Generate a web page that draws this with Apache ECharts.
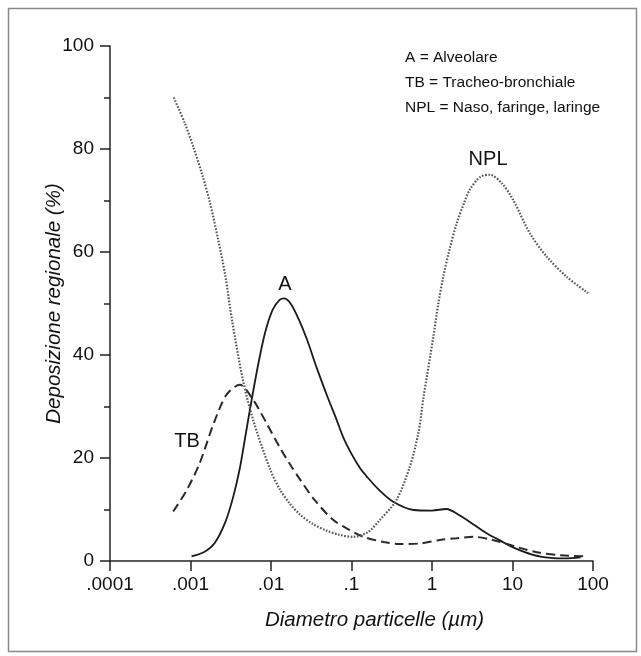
<!DOCTYPE html>
<html lang="it">
<head>
    <meta charset="UTF-8">
    <title>Deposizione regionale</title>
    <script src="https://cdn.jsdelivr.net/npm/echarts@6/dist/echarts.min.js"></script>
    <style>
        html, body { margin: 0; padding: 0; background: #fff; }
        #chart { width: 641px; height: 656px; }
    </style>
</head>
<body>
<div id="chart"></div>
<script>
    // diametro (um) / deposizione (%)
    var aX = [0.00103, 0.0015, 0.002, 0.0027, 0.0034, 0.0041, 0.0049, 0.00575, 0.007, 0.0085, 0.0105, 0.0128, 0.0145, 0.0175, 0.022, 0.028, 0.037, 0.05, 0.065, 0.079, 0.1, 0.128, 0.155, 0.22, 0.33, 0.59, 1.0, 1.5, 2.2, 3.5, 5, 7, 10, 18, 30, 45, 70];
    var aY = [0.9, 1.8, 3.5, 7.5, 12.5, 18, 25, 31.3, 38.5, 44.5, 48.8, 50.7, 51, 50, 47, 43, 37.5, 32, 27.5, 24, 20.8, 18, 16.4, 13.8, 11.5, 9.9, 9.8, 10.1, 8.9, 6.8, 5.2, 4.0, 2.7, 1.2, 0.6, 0.5, 0.7];

    var tbX = [0.00061, 0.0009, 0.0013, 0.00192, 0.0028, 0.0041, 0.006, 0.00885, 0.0129, 0.018, 0.023, 0.035, 0.059, 0.09, 0.14, 0.25, 0.4, 0.7, 1.26, 2, 3.26, 5, 7, 12, 20, 40, 85];
    var tbY = [9.6, 13.8, 19, 26.5, 32.3, 34.2, 31.3, 26.7, 22, 18.3, 15.8, 11.8, 8.0, 6.2, 4.7, 3.7, 3.3, 3.4, 4.1, 4.4, 4.7, 4.3, 3.7, 2.6, 1.7, 1.1, 0.9];

    var nplX = [0.00062, 0.00085, 0.00108, 0.0014, 0.00175, 0.0022, 0.0027, 0.0033, 0.0045, 0.006, 0.0098, 0.013, 0.017, 0.023, 0.033, 0.049, 0.07, 0.105, 0.16, 0.226, 0.36, 0.53, 0.68, 0.78, 1.04, 1.2, 1.38, 1.65, 2.03, 2.5, 2.97, 4, 5.25, 7.5, 10.2, 16.5, 26.6, 47, 87];
    var nplY = [90, 85, 80.5, 75, 69.5, 62.5, 55.5, 46.5, 35, 27.4, 17.7, 13.8, 11.2, 9.0, 7.2, 5.9, 5.1, 4.7, 5.6, 8.0, 11.8, 18.3, 25, 31.5, 43.6, 50, 55.2, 60.5, 65.6, 69.5, 72.2, 74.6, 75, 73.2, 70.1, 63.6, 59.1, 55.2, 52];

    var xTickLabels = {0.0001: '.0001', 0.001: '.001', 0.01: '.01', 0.1: '.1', 1: '1', 10: '10', 100: '100'};
    var legendLines = ['A = Alveolare', 'TB = Tracheo-bronchiale', 'NPL = Naso, faringe, laringe'];

    function pairs(xs, ys) {
        return xs.map(function (x, i) { return [x, ys[i]]; });
    }

    var font = '"Liberation Sans", Arial, Helvetica, sans-serif';

    // etichetta di curva centrata sul punto indicato
    function curveLabel(text, coord) {
        return {
            symbol: 'circle', symbolSize: 0, silent: true,
            label: { show: true, formatter: text, color: '#111', fontSize: 20, fontFamily: font, position: 'inside' },
            data: [{ coord: coord }]
        };
    }

    var chart = echarts.init(document.getElementById('chart'));

    var option = {
        backgroundColor: '#fff',
        animation: false,
        grid: { left: 110, right: 48, top: 46, bottom: 95 },
        xAxis: {
            type: 'log',
            logBase: 10,
            min: 0.0001,
            max: 100,
            name: 'Diametro particelle (\u00b5m)',
            nameLocation: 'middle',
            nameGap: 49,
            nameMoveOverlap: false,
            nameTextStyle: { fontSize: 20.5, fontStyle: 'italic', color: '#111', fontFamily: font, padding: [0, 0, 0, 46] },
            axisLine: { lineStyle: { color: '#222', width: 1.5 } },
            axisTick: { length: 10, lineStyle: { color: '#222', width: 1.5 } },
            axisLabel: {
                fontSize: 19, color: '#111', fontFamily: font, margin: 14,
                formatter: function (v) {
                    var key = Object.keys(xTickLabels).find(function (k) { return Math.abs(Math.log10(+k) - Math.log10(v)) < 1e-6; });
                    return key ? xTickLabels[key] : '';
                }
            },
            splitLine: { show: false },
            minorTick: { show: false }
        },
        yAxis: {
            type: 'value',
            min: 0,
            max: 100,
            interval: 20,
            name: 'Deposizione regionale (%)',
            nameLocation: 'middle',
            nameGap: 46,
            nameMoveOverlap: false,
            nameTextStyle: { fontSize: 20.5, fontStyle: 'italic', color: '#111', fontFamily: font },
            axisLine: { show: true, lineStyle: { color: '#222', width: 1.5 } },
            axisTick: { show: true, length: 10, lineStyle: { color: '#222', width: 1.5 } },
            minorTick: { show: true, splitNumber: 2, length: 6, lineStyle: { color: '#222', width: 1.5 } },
            axisLabel: { fontSize: 19, color: '#111', fontFamily: font, margin: 16 },
            splitLine: { show: false }
        },
        graphic: [
            {
                type: 'rect', left: 6, top: 6, silent: true,
                shape: { width: 628, height: 643 },
                style: { fill: 'none', stroke: '#8a8a8a', lineWidth: 1.5 }
            }
        ].concat(legendLines.map(function (t, i) {
            return {
                type: 'text', x: 405, y: 58 + i * 25, silent: true,
                style: { text: t, fontSize: 15.5, fontFamily: font, fill: '#111', verticalAlign: 'middle' }
            };
        })),
        series: [
            {
                name: 'A', type: 'line', smooth: 0.3, showSymbol: false,
                lineStyle: { color: '#1a1a1a', width: 1.8, type: 'solid' },
                data: pairs(aX, aY),
                markPoint: curveLabel('A', [0.0149, 53.6])
            },
            {
                name: 'TB', type: 'line', smooth: 0.3, showSymbol: false,
                lineStyle: { color: '#2a2a2a', width: 2, type: [9, 5] },
                data: pairs(tbX, tbY),
                markPoint: curveLabel('TB', [0.000905, 23.3])
            },
            {
                name: 'NPL', type: 'line', smooth: 0.3, showSymbol: false,
                lineStyle: { color: '#555', width: 2.2, type: [1.6, 1.6] },
                data: pairs(nplX, nplY),
                markPoint: curveLabel('NPL', [4.97, 77.9])
            }
        ]
    };

    chart.setOption(option);
</script>
</body>
</html>
